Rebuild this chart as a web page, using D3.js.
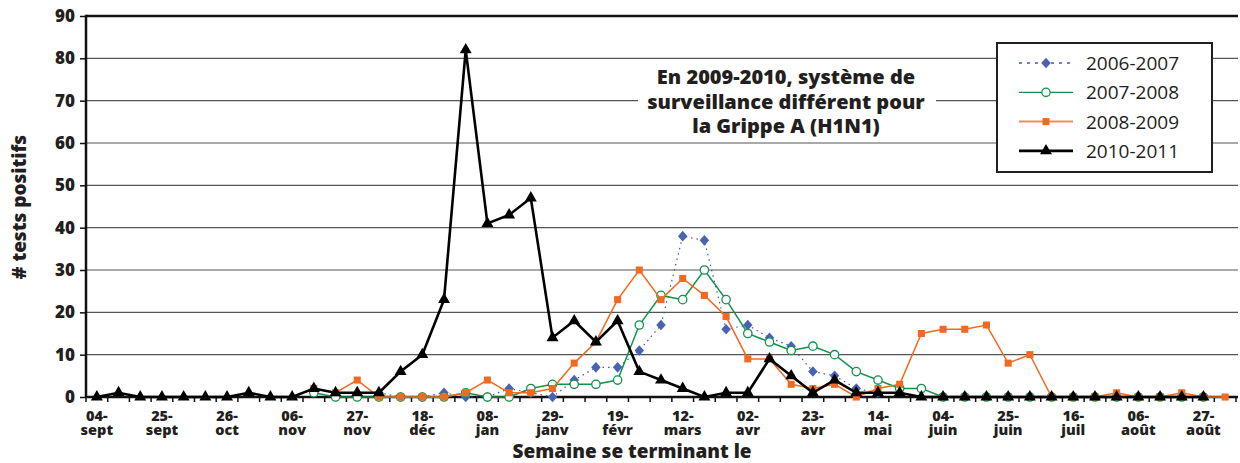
<!DOCTYPE html>
<meta charset="utf-8">
<head>
<title>Tests positifs par semaine</title>
<style>
  body { margin: 0; background: #fff; }
  svg { font-family: "Open Sans", "Noto Sans", sans-serif; }
  .bold { font-weight: 800; fill: #231f20; }
</style>
</head>
<body>
<div id="chart"></div>
<script src="https://cdn.jsdelivr.net/npm/d3@7"></script>
<script>

// weeks on the x axis (one entry per week, labels only every third week)
var nWeeks = 53;
var tickIndex  = [0, 3, 6, 9, 12, 15, 18, 21, 24, 27, 30, 33, 36, 39, 42, 45, 48, 51];
var tickLabels = ["04-sept", "25-sept", "26-oct", "06-nov", "27-nov", "18-déc", "08-jan", "29-janv", "19-févr",
                  "12-mars", "02-avr", "23-avr", "14-mai", "04-juin", "25-juin", "16-juil", "06-août", "27-août"];
var yTicks = [0, 10, 20, 30, 40, 50, 60, 70, 80, 90];

// # tests positifs, null = no data that week
var s0607 = [null,null,null,null,null,null,null,null,null,null, null,null,null,1,0,0,1,0,0,2,
             1,0,4,7,7,11,17,38,37,16, 17,14,12,6,5,2,1,null,null,null,
             null,null,null,null,null,null,null,null,null,null, null,null,null];
var s0708 = [null,null,null,null,null,null,null,null,null,null, 1,0,0,0,0,0,0,1,0,0,
             2,3,3,3,4,17,24,23,30,23, 15,13,11,12,10,6,4,2,2,0,
             0,0,0,0,0,0,0,0,0,0, 0,0,null];
var s0809 = [null,null,null,null,null,null,null,null,null,null, 2,1,4,0,0,0,0,1,4,1,
             1,2,8,13,23,30,23,28,24,19, 9,9,3,2,3,0,2,3,15,16,
             16,17,8,10,0,0,0,1,0,0, 1,0,0];
var s1011 = [0,1,0,0,0,0,0,1,0,0, 2,1,1,1,6,10,23,82,41,43,
             47,14,18,13,18,6,4,2,0,1, 1,9,5,1,4,1,1,1,0,0,
             0,0,0,0,0,0,0,0,0,0, 0,0,null];

var seriesNames = ["2006-2007", "2007-2008", "2008-2009", "2010-2011"];
var seriesData  = [s0607, s0708, s0809, s1011];

var noteLines = ["En 2009-2010, système de", "surveillance différent pour", "la Grippe A (H1N1)"];

var W = 1240, H = 463;
var margin = {left: 86, top: 16, right: 4, bottom: 66};

var svg = d3.select("#chart").append("svg")
    .attr("width", W).attr("height", H);

var x = d3.scaleBand()
    .domain(d3.range(nWeeks))
    .range([margin.left, W - margin.right]);
var y = d3.scaleLinear()
    .domain([0, 90])
    .range([H - margin.bottom, margin.top]);
var y0 = y(0);

// grid lines
svg.append("g").selectAll("line")
  .data(yTicks.slice(1))
  .enter().append("line")
    .attr("x1", margin.left).attr("x2", W - margin.right + 2)
    .attr("y1", d => y(d)).attr("y2", d => y(d))
    .attr("stroke", "#555").attr("stroke-width", 1.1);

// top border
svg.append("line")
  .attr("x1", margin.left).attr("x2", W - margin.right + 2)
  .attr("y1", margin.top).attr("y2", margin.top)
  .attr("stroke", "#111").attr("stroke-width", 2.5);

// annotation (white background hides the grid)
var note = svg.append("g");
note.append("rect")
  .attr("x", 638).attr("y", 63).attr("width", 298).attr("height", 78)
  .attr("fill", "#fff");
note.selectAll("text")
  .data(noteLines)
  .enter().append("text")
    .attr("class", "bold")
    .attr("x", 786).attr("y", (d, i) => 84 + i * 24.5)
    .attr("text-anchor", "middle")
    .style("font-size", "20px")
    .text(d => d);

// y axis
var yAxis = svg.append("g")
  .attr("transform", "translate(" + margin.left + ",0)")
  .call(d3.axisLeft(y).tickValues(yTicks).tickSize(6).tickPadding(5));
yAxis.select(".domain").remove();
yAxis.selectAll("line").attr("stroke", "#111").attr("stroke-width", 1.5);
yAxis.selectAll("text")
  .attr("class", "bold")
  .style("font-size", "17px")
  .style("font-family", "'Open Sans', sans-serif");
svg.append("line")
  .attr("x1", margin.left).attr("x2", margin.left)
  .attr("y1", margin.top - 1.2).attr("y2", y0 + 1)
  .attr("stroke", "#111").attr("stroke-width", 2.5);

// x axis: ticks between weeks
var xg = svg.append("g");
xg.selectAll("line.tk")
  .data(d3.range(nWeeks + 1))
  .enter().append("line")
    .attr("class", "tk")
    .attr("x1", d => margin.left + d * x.step()).attr("x2", d => margin.left + d * x.step())
    .attr("y1", y0).attr("y2", y0 + 5)
    .attr("stroke", "#111").attr("stroke-width", 1.5);
xg.append("line")
  .attr("x1", margin.left).attr("x2", W - margin.right + 2)
  .attr("y1", y0).attr("y2", y0)
  .attr("stroke", "#111").attr("stroke-width", 2.5);

// two-line week labels ("04-" over "sept")
tickIndex.forEach(function(d, i) {
  var parts = tickLabels[i].split("-");
  var cxl = x(d) + x.bandwidth() / 2;
  xg.append("text").attr("class", "bold")
    .attr("x", cxl).attr("y", y0 + 24)
    .attr("text-anchor", "middle").style("font-size", "14.5px")
    .text(parts[0] + "-");
  xg.append("text").attr("class", "bold")
    .attr("x", cxl).attr("y", y0 + 37.5)
    .attr("text-anchor", "middle").style("font-size", "14.5px")
    .text(parts[1]);
});

// axis titles
svg.append("text")
  .attr("class", "bold")
  .attr("x", 632).attr("y", 457.5)
  .attr("text-anchor", "middle")
  .style("font-size", "19px")
  .text("Semaine se terminant le");
svg.append("text")
  .attr("class", "bold")
  .attr("transform", "translate(26,207) rotate(-90)")
  .attr("text-anchor", "middle")
  .style("font-size", "19px")
  .text("# tests positifs");

// series styles
var styles = [
  {color: "#3f57a8", width: 1.2, dash: "1.5,4", marker: d3.symbolDiamond, size: 50, fill: "#4a62b3"},
  {color: "#12924a", width: 1.5, dash: null, marker: d3.symbolCircle, size: 55, fill: "#fff"},
  {color: "#f26a21", width: 1.5, dash: null, marker: d3.symbolSquare, size: 50, fill: "#f26a21"},
  {color: "#000", width: 2.6, dash: null, marker: d3.symbolTriangle, size: 62, fill: "#000"}
];

var cx = i => x(i) + x.bandwidth() / 2;
var line = d3.line()
  .defined(d => d.v !== null)
  .x(d => cx(d.i))
  .y(d => y(d.v));

seriesData.forEach(function(vals, k) {
  var st = styles[k];
  var pts = vals.map((v, i) => ({i: i, v: v}));
  var g = svg.append("g");
  g.append("path")
    .datum(pts)
    .attr("d", line)
    .attr("fill", "none")
    .attr("stroke", st.color)
    .attr("stroke-width", st.width)
    .attr("stroke-dasharray", st.dash);
  g.selectAll("path.pt")
    .data(pts.filter(d => d.v !== null))
    .enter().append("path")
      .attr("class", "pt")
      .attr("transform", d => "translate(" + cx(d.i) + "," + y(d.v) + ")" + (k === 0 ? " scale(1.25,0.8)" : ""))
      .attr("d", d3.symbol().type(st.marker).size(st.size))
      .attr("fill", st.fill)
      .attr("stroke", k === 1 ? st.color : "none")
      .attr("stroke-width", 1.3);
});

// legend
var lg = svg.append("g");
lg.append("rect")
  .attr("x", 997).attr("y", 43).attr("width", 215).attr("height", 129)
  .attr("fill", "#fff").attr("stroke", "#231f20").attr("stroke-width", 2);
seriesNames.forEach(function(name, k) {
  var st = styles[k];
  var ly = 63 + k * 29.3;
  lg.append("line")
    .attr("x1", 1019).attr("x2", 1073).attr("y1", ly).attr("y2", ly)
    .attr("stroke", k === 2 ? "#f4895a" : st.color)
    .attr("stroke-width", k === 3 ? 2.6 : (k === 2 ? 2 : 1.3))
    .attr("stroke-dasharray", k === 0 ? "3,5" : null);
  lg.append("path")
    .attr("transform", "translate(1046," + ly + ")" + (k === 0 ? " scale(1.25,0.8)" : ""))
    .attr("d", d3.symbol().type(st.marker).size(st.size))
    .attr("fill", st.fill)
    .attr("stroke", k === 1 ? st.color : "none")
    .attr("stroke-width", 1.3);
  lg.append("text")
    .attr("x", 1086).attr("y", ly + 7)
    .style("font-size", "19px").style("fill", "#231f20")
    .text(name);
});

</script>
</body>
